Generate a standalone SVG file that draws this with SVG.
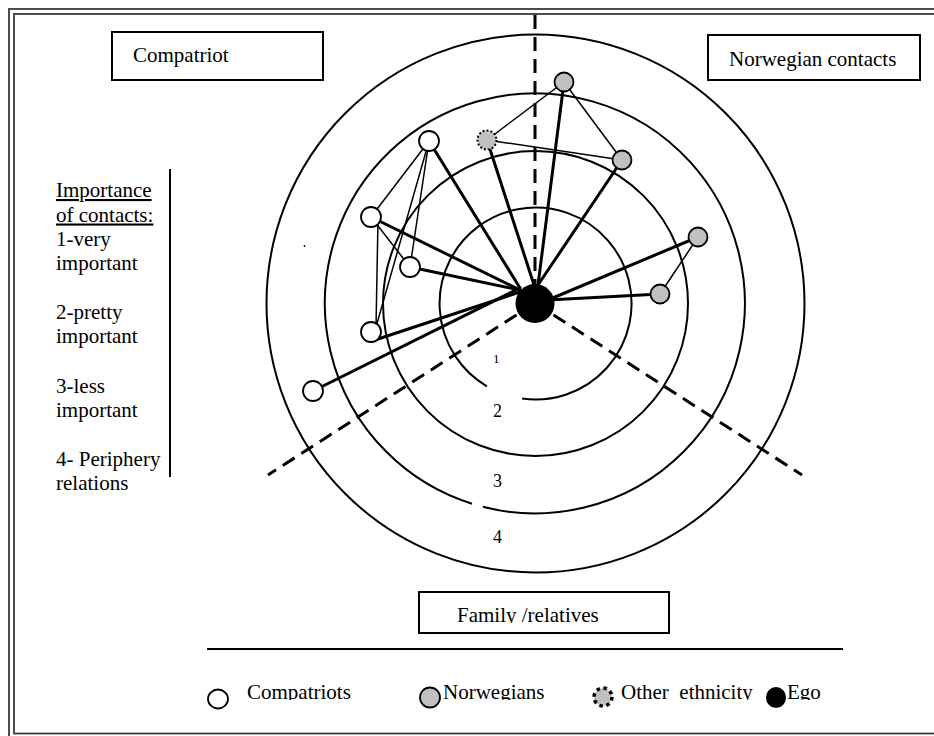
<svg xmlns="http://www.w3.org/2000/svg" width="934" height="736" viewBox="0 0 934 736" font-family="'Liberation Serif', 'Times New Roman', serif">
<style>
text{font-family:"Liberation Serif","Times New Roman",serif;fill:#000}
.t21{font-size:21px}
.box{fill:#fff;stroke:#000;stroke-width:2}
.ring{fill:none;stroke:#000;stroke-width:2}
.dash{fill:none;stroke:#000;stroke-width:3;stroke-dasharray:14 8}
.thick{stroke:#000;stroke-width:3;stroke-linecap:round}
.thin{stroke:#000;stroke-width:1.5}
.comp{fill:#fff;stroke:#000;stroke-width:1.8}
.nor{fill:#c0c0c0;stroke:#000;stroke-width:1.8}
.oth{fill:#c0c0c0;stroke:#000;stroke-width:2;stroke-dasharray:2 2}
.frame{fill:none;stroke:#3a3a3a;stroke-width:1.8}
</style>
<defs>
<clipPath id="clipFam"><rect x="400" y="590" width="280" height="33"/></clipPath>
<clipPath id="clipLeg"><rect x="200" y="670" width="700" height="30"/></clipPath>
</defs>
<rect width="934" height="736" fill="#fff"/>
<g id="frame">
<rect class="frame" x="9" y="9" width="940" height="740"/>
<rect class="frame" x="14" y="14" width="940" height="719.5"/>
</g>
<g id="rings">
<path class="ring" d="M486.9,386.3 A96,96 0 1 1 522.1,398.6"/>
<circle class="ring" cx="535.5" cy="303.5" r="152.5"/>
<path class="ring" d="M472.0,503.7 A210,210 0 1 1 482.9,506.8"/>
<circle class="ring" cx="535.5" cy="303.5" r="269"/>
</g>
<g id="sectors">
<line class="dash" x1="535" y1="15" x2="535" y2="303"/>
<line class="dash" x1="535" y1="303" x2="268" y2="475"/>
<line class="dash" x1="535" y1="303" x2="802" y2="475"/>
</g>
<g id="ring-labels">
<text x="493" y="363" style="font-size:13px">1</text>
<text x="493" y="417" style="font-size:18px">2</text>
<text x="493" y="487" style="font-size:18px">3</text>
<text x="493" y="543" style="font-size:18px">4</text>
</g>
<g id="connectors">
<line class="thick" x1="429" y1="141" x2="520" y2="288"/>
<line class="thick" x1="371" y1="217" x2="520" y2="290"/>
<line class="thick" x1="410" y1="267" x2="520" y2="290"/>
<line class="thick" x1="372" y1="341" x2="520" y2="292"/>
<line class="thick" x1="313" y1="391" x2="520" y2="288"/>
<line class="thick" x1="487" y1="140" x2="535" y2="288"/>
<line class="thick" x1="564" y1="82" x2="538" y2="285"/>
<line class="thick" x1="622" y1="160" x2="538" y2="285"/>
<line class="thick" x1="698" y1="237" x2="548" y2="300"/>
<line class="thick" x1="660" y1="294" x2="548" y2="300"/>
<line class="thin" x1="564" y1="82" x2="487" y2="140"/>
<line class="thin" x1="564" y1="82" x2="622" y2="160"/>
<line class="thin" x1="487" y1="140" x2="622" y2="160"/>
<line class="thin" x1="698" y1="237" x2="660" y2="294"/>
<line class="thin" x1="429" y1="141" x2="371" y2="217"/>
<line class="thin" x1="429" y1="141" x2="410" y2="267"/>
<line class="thin" x1="429" y1="141" x2="376" y2="327"/>
<line class="thin" x1="371" y1="217" x2="410" y2="267"/>
<line class="thin" x1="378" y1="220" x2="376" y2="327"/>
</g>
<g id="n-comp-top"><circle class="comp" cx="429" cy="141" r="10"/></g>
<g id="n-comp-left"><circle class="comp" cx="371" cy="217" r="10"/></g>
<g id="n-comp-mid"><circle class="comp" cx="410" cy="267" r="10"/></g>
<g id="n-comp-low"><circle class="comp" cx="371" cy="332" r="10"/></g>
<g id="n-comp-bl"><circle class="comp" cx="313" cy="391" r="10"/></g>
<g id="n-other"><circle class="oth" cx="487" cy="140" r="9.5"/></g>
<g id="n-nor-top"><circle class="nor" cx="564" cy="82" r="9.5"/></g>
<g id="n-nor-mid"><circle class="nor" cx="622" cy="160" r="9.5"/></g>
<g id="n-nor-r1"><circle class="nor" cx="698" cy="237" r="9.5"/></g>
<g id="n-nor-r2"><circle class="nor" cx="660" cy="294" r="9.5"/></g>
<g id="n-ego"><circle cx="535" cy="303.5" r="19.5" fill="#000"/></g>
<circle cx="304.5" cy="246" r="0.9" fill="#000"/>
<g id="box-compatriot">
<rect class="box" x="112" y="32" width="211" height="48"/>
<text class="t21" x="133" y="62">Compatriot</text>
</g>
<g id="box-norwegian">
<rect class="box" x="708" y="35" width="212" height="45"/>
<text class="t21" x="729" y="66">Norwegian contacts</text>
</g>
<g id="box-family">
<rect class="box" x="419" y="592" width="250" height="41"/>
<text class="t21" x="457" y="622" clip-path="url(#clipFam)">Family /relatives</text>
</g>
<g id="importance">
<text class="t21" x="56" y="197" text-decoration="underline">Importance</text>
<text class="t21" x="56" y="221.5" text-decoration="underline">of contacts:</text>
<text class="t21" x="56" y="246">1-very</text>
<text class="t21" x="56" y="270">important</text>
<text class="t21" x="56" y="319">2-pretty</text>
<text class="t21" x="56" y="343">important</text>
<text class="t21" x="56" y="392.5">3-less</text>
<text class="t21" x="56" y="417">important</text>
<text class="t21" x="56" y="466">4- Periphery</text>
<text class="t21" x="56" y="490">relations</text>
<line x1="170" y1="169" x2="170" y2="477" stroke="#000" stroke-width="2"/>
</g>
<line x1="207" y1="649" x2="843" y2="649" stroke="#000" stroke-width="2"/>
<g id="legend">
<ellipse cx="218" cy="699" rx="10" ry="9.5" fill="#fff" stroke="#000" stroke-width="1.8"/>
<ellipse cx="430" cy="697.5" rx="10" ry="10" fill="#c0c0c0" stroke="#000" stroke-width="1.8"/>
<circle cx="603" cy="697" r="9" fill="#c0c0c0" stroke="#000" stroke-width="3.5" stroke-dasharray="3.5 3.6"/>
<ellipse cx="776" cy="697.5" rx="10" ry="10.5" fill="#000"/>
<g clip-path="url(#clipLeg)">
<text class="t21" x="247" y="699">Compatriots</text>
<text class="t21" x="443" y="699">Norwegians</text>
<text class="t21" x="621" y="699" xml:space="preserve">Other  ethnicity</text>
<text class="t21" x="787" y="699">Ego</text>
</g>
</g>
</svg>
